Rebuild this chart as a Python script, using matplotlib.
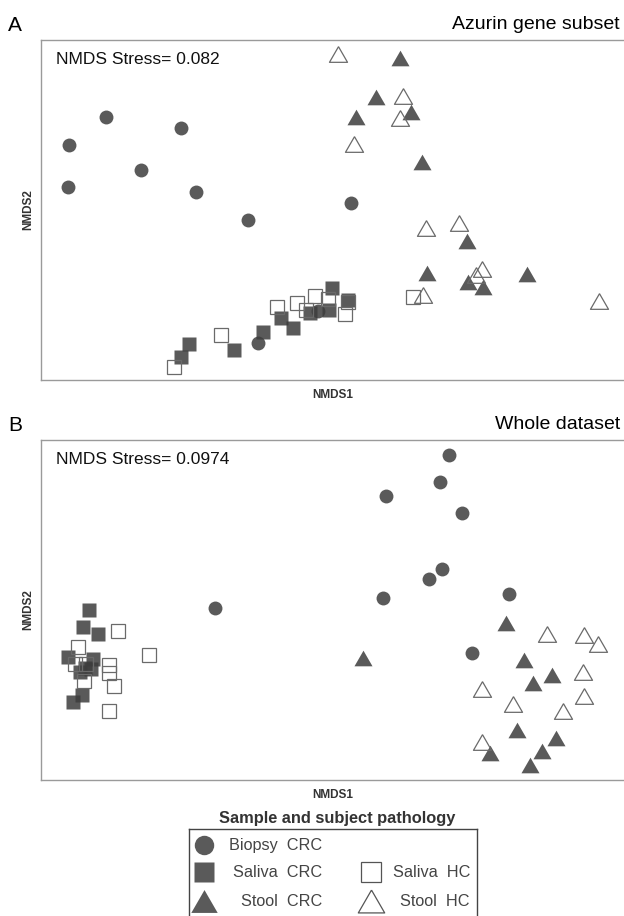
import matplotlib
matplotlib.use("Agg")
import matplotlib.pyplot as plt
import numpy as np

plt.rcParams['font.family'] = ['Liberation Sans', 'DejaVu Sans']

# NMDS coordinates, panel A (Azurin gene subset)
a_biopsy_crc = [(-0.224, 0.093), (-0.149, 0.082), (-0.261, 0.065), (-0.189, 0.040), (-0.262, 0.023),
                (-0.134, 0.018), (-0.082, -0.010), (0.021, 0.007), (-0.072, -0.133), (-0.012, -0.101)]
a_saliva_crc = [(-0.141, -0.134), (-0.149, -0.147), (-0.096, -0.140), (-0.067, -0.122), (-0.049, -0.108),
                (-0.037, -0.118), (-0.020, -0.103), (-0.001, -0.100), (0.002, -0.078), (0.018, -0.090)]
a_saliva_hc = [(-0.156, -0.157), (-0.109, -0.125), (-0.053, -0.097), (-0.033, -0.093), (-0.015, -0.086),
               (-0.024, -0.100), (-0.002, -0.089), (0.015, -0.104), (0.083, -0.087), (0.018, -0.092)]
a_stool_crc = [(0.070, 0.152), (0.046, 0.113), (0.081, 0.098), (0.026, 0.093), (0.092, 0.048),
               (0.137, -0.031), (0.097, -0.063), (0.138, -0.072), (0.153, -0.077), (0.197, -0.064)]
a_stool_hc = [(0.008, 0.156), (0.073, 0.114), (0.070, 0.092), (0.024, 0.066), (0.096, -0.018),
              (0.129, -0.013), (0.152, -0.059), (0.146, -0.065), (0.093, -0.085), (0.269, -0.091)]

# panel B (whole dataset)
b_biopsy_crc = [(0.119, 0.155), (0.110, 0.128), (0.056, 0.114), (0.132, 0.097), (0.112, 0.041),
                (0.099, 0.031), (0.053, 0.012), (0.179, 0.016), (0.142, -0.043), (-0.115, 0.002)]
b_saliva_crc = [(-0.241, 0.000), (-0.247, -0.017), (-0.232, -0.024), (-0.262, -0.047), (-0.237, -0.049),
                (-0.245, -0.058), (-0.239, -0.059), (-0.250, -0.062), (-0.248, -0.085), (-0.257, -0.092)]
b_saliva_hc = [(-0.212, -0.021), (-0.181, -0.045), (-0.252, -0.037), (-0.255, -0.054), (-0.244, -0.054),
               (-0.221, -0.055), (-0.221, -0.063), (-0.246, -0.071), (-0.216, -0.076), (-0.221, -0.101)]
b_stool_crc = [(0.176, -0.013), (0.033, -0.048), (0.194, -0.050), (0.203, -0.073), (0.222, -0.065),
               (0.187, -0.120), (0.226, -0.128), (0.212, -0.141), (0.160, -0.143), (0.200, -0.155)]
b_stool_hc = [(0.217, -0.024), (0.254, -0.025), (0.268, -0.034), (0.152, -0.079), (0.253, -0.062),
              (0.254, -0.086), (0.183, -0.094), (0.233, -0.101), (0.152, -0.132)]

panel_letters = ['A', 'B']
panel_titles = ['Azurin gene subset', 'Whole dataset']
stress_labels = ['NMDS Stress= 0.082', 'NMDS Stress= 0.0974']
legend_labels = ['Biopsy  CRC', 'Saliva  CRC', 'Stool  CRC', 'Saliva  HC', 'Stool  HC']

# equilateral triangle like ggplot shape 17 / 2
tri = [(0, 0.75), (-0.866, -0.75), (0.866, -0.75), (0, 0.75)]

fill_col = '#3d3d3d'
edge_col = '#6a6a6a'
styles = [  # marker, size, filled
    ('o', 10, True),
    ('s', 10, True),
    ('s', 10, False),
    (tri, 13, True),
    (tri, 13, False),
]

W, H = 624, 916
fig = plt.figure(figsize=(W / 100, H / 100), dpi=100)

def fx(px):
    return px / W

def fy(py):
    return 1 - py / H

panels = [
    [a_biopsy_crc, a_saliva_crc, a_saliva_hc, a_stool_crc, a_stool_hc],
    [b_biopsy_crc, b_saliva_crc, b_saliva_hc, b_stool_crc, b_stool_hc],
]
tops = [40, 440]

for i, groups in enumerate(panels):
    top = tops[i]
    ax = fig.add_axes([fx(41), fy(top + 340), fx(630) - fx(41), 340 / H])
    for pts, (mk, ms, filled) in zip(groups, styles):
        arr = np.array(pts)
        if filled:
            ax.plot(arr[:, 0], arr[:, 1], ls='none', marker=mk, ms=ms, mfc=fill_col, mec='none', alpha=0.85)
        else:
            ax.plot(arr[:, 0], arr[:, 1], ls='none', marker=mk, ms=ms, mfc='none', mec=edge_col, mew=0.9)
    ax.set_xlim(-0.289, 0.300)
    ax.set_ylim(-0.170, 0.170)
    ax.set_xticks([])
    ax.set_yticks([])
    for s in ax.spines.values():
        s.set_color('#9a9a9a')
        s.set_linewidth(1.0)
    ax.text(0.025, 1 - 24 / 340, stress_labels[i], transform=ax.transAxes, fontsize=12.5,
            va='baseline', ha='left', color='#111111')
    fig.text(fx(8), fy(top - 9), panel_letters[i], fontsize=15, va='baseline', ha='left')
    fig.text(fx(620), fy(top - 11), panel_titles[i], fontsize=14, va='baseline', ha='right')
    fig.text(fx(333), fy(top + 355), 'NMDS1', fontsize=8.5, fontweight='bold', color='#333333',
             ha='center', va='center')
    fig.text(fx(28), fy(top + 170), 'NMDS2', fontsize=8.5, fontweight='bold', color='#333333',
             ha='center', va='center', rotation=90)

# legend drawn in its own box
fig.text(fx(337), fy(818), 'Sample and subject pathology', fontsize=11.8, fontweight='bold',
         color='#333333', ha='center', va='center')
lax = fig.add_axes([fx(189), fy(930), fx(477) - fx(189), (930 - 829) / H])
lax.set_xlim(189, 477)
lax.set_ylim(930, 829)
lax.set_xticks([])
lax.set_yticks([])
for s in lax.spines.values():
    s.set_color('#444444')
    s.set_linewidth(1.0)

leg_pos = [(204, 845, 322), (204, 872, 322), (371, 872, 470), (204, 901, 322), (371, 901, 470)]
leg_order = [0, 1, 3, 2, 4]
leg_styles = [('o', 14, True), ('s', 14, True), ('s', 14, False), (tri, 19, True), (tri, 19, False)]
for k, (mx, my, tx) in enumerate(leg_pos):
    mk, ms, filled = leg_styles[k]
    if filled:
        lax.plot([mx], [my], ls='none', marker=mk, ms=ms, mfc='#5a5a5a', mec='none')
    else:
        lax.plot([mx], [my], ls='none', marker=mk, ms=ms, mfc='none', mec='#555555', mew=0.9)
    lab = {0: legend_labels[0], 1: legend_labels[1], 2: legend_labels[3],
           3: legend_labels[2], 4: legend_labels[4]}[k]
    lax.text(tx, my, lab, fontsize=11.7, color='#444444', ha='right', va='center')

fig.savefig('out.png', dpi=100)
